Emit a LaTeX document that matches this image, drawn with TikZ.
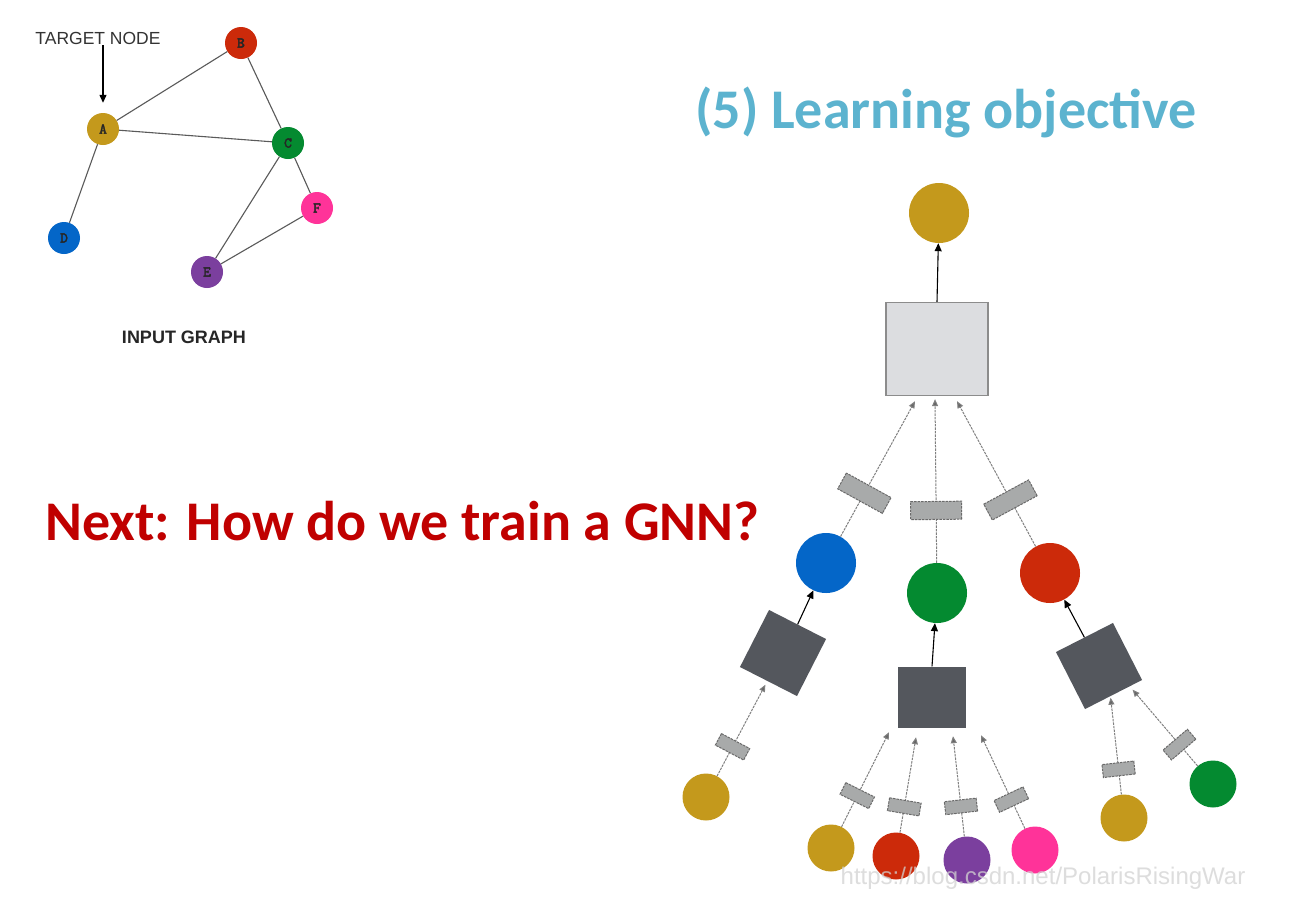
\documentclass[tikz,border=0pt]{standalone}
\usepackage{fontspec}
\setmainfont{Liberation Sans}
\newfontfamily\calib{Carlito}
\newfontfamily\monob{lmmono10-regular.otf}[FakeBold=2.5]
\usetikzlibrary{arrows.meta,calc}
\definecolor{cgold}{HTML}{C4991C}
\definecolor{cred}{HTML}{CC2A0A}
\definecolor{cgreen}{HTML}{048A30}
\definecolor{cblue}{HTML}{0466C8}
\definecolor{cpurple}{HTML}{7B3F9E}
\definecolor{cpink}{HTML}{FF3399}
\definecolor{dsq}{HTML}{54575D}
\definecolor{lsq}{HTML}{DCDDE0}
\definecolor{lsqb}{HTML}{8C8C8C}
\definecolor{rfill}{HTML}{A8AAAA}
\definecolor{rbord}{HTML}{6A6A6A}
\definecolor{msgc}{HTML}{808080}
\definecolor{edgec}{HTML}{5A5A5A}
\definecolor{titleblue}{HTML}{5CB3CF}
\definecolor{nextred}{HTML}{C00000}
\definecolor{tgray}{HTML}{333333}
\begin{document}
\begin{tikzpicture}[x=1pt,y=-1pt,
  gnode/.style={circle, minimum size=32pt, inner sep=0pt, text=black!85, font=\monob\bfseries\fontsize{15}{15}\selectfont},
  gedge/.style={draw=edgec, line width=1.1pt},
  bigc/.style={circle, minimum size=60pt, inner sep=0pt},
  smallc/.style={circle, minimum size=47pt, inner sep=0pt},
  darkbox/.style={fill=dsq, minimum width=64pt, minimum height=64pt, inner sep=0pt},
  lightbox/.style={fill=lsq, draw=lsqb, line width=1.3pt, minimum width=102pt, minimum height=93pt, inner sep=0pt},
  wrect/.style={draw=rbord, fill=rfill, line width=1pt, minimum width=18pt, minimum height=51pt, inner sep=0pt, sloped},
  swrect/.style={draw=rbord, fill=rfill, line width=1pt, minimum width=13pt, minimum height=32pt, inner sep=0pt, sloped},
  msg/.style={draw=msgc, line width=1pt, dash pattern=on 2.5pt off 1pt, -{Triangle[length=7pt,width=6pt,fill=msgc!80!black]}},
  up/.style={draw=black, line width=1.1pt, -{Triangle[length=8pt,width=7pt]}}
]
\fill[white] (0,0) rectangle (1297,919);
\useasboundingbox (0,0) rectangle (1297,919);

% ---------- input graph ----------
\node[anchor=base, text=tgray, font=\fontsize{17.5}{17.5}\selectfont, inner sep=1pt] (tlabel) at (98,44) {TARGET NODE};
\node[gnode, fill=cgold] (A) at (103,129) {A};
\node[gnode, fill=cred] (B) at (241,43) {B};
\node[gnode, fill=cgreen] (C) at (288,143) {C};
\node[gnode, fill=cblue] (D) at (64,238) {D};
\node[gnode, fill=cpurple] (E) at (207,272) {E};
\node[gnode, fill=cpink] (F) at (317,208) {F};
\draw[gedge] (A) -- (B);
\draw[gedge] (A) -- (C);
\draw[gedge] (B) -- (C);
\draw[gedge] (A) -- (D);
\draw[gedge] (C) -- (E);
\draw[gedge] (C) -- (F);
\draw[gedge] (E) -- (F);
\draw[up, line width=1.3pt, -{Triangle[length=8pt,width=7pt]}, shorten >=10pt] (tlabel.south -| A.north) -- (A.north);
\node[anchor=base, font=\bfseries\fontsize{18}{18}\selectfont, text=black!85] (ig) at (184,343) {INPUT GRAPH};

% ---------- titles ----------
\node[anchor=base west, inner sep=0pt, text=titleblue, font=\calib\bfseries\fontsize{56}{56}\selectfont] (title) at (695,128) {(5) Learning objective};
\node[anchor=base west, inner sep=0pt, text=nextred, font=\calib\bfseries\fontsize{56}{56}\selectfont] (next) at (45,540) {Next: How do we train a GNN?};

% ---------- tree ----------
\node[bigc, fill=cgold] (root) at (939,213) {};
\node[lightbox] (agg) at (937,349) {};
\node[bigc, fill=cblue] (b1) at (826,563) {};
\node[bigc, fill=cgreen] (g1) at (937,593) {};
\node[bigc, fill=cred] (r1) at (1050,573) {};
\node[darkbox, rotate=-27] (L1) at (783,653) {};
\node[darkbox, minimum width=68pt, minimum height=61pt] (M1) at (932,697) {};
\node[darkbox, rotate=27] (R1) at (1099,666) {};

\node[smallc, fill=cgold] (l2a) at (706,797) {};
\node[smallc, fill=cgold] (m2a) at (831,848) {};
\node[smallc, fill=cred] (m2b) at (896,856) {};
\node[smallc, fill=cpurple] (m2c) at (967,860) {};
\node[smallc, fill=cpink] (m2d) at (1035,850) {};
\node[smallc, fill=cgold] (r2a) at (1124,818) {};
\node[smallc, fill=cgreen] (r2b) at (1213,784) {};

% arrow targets
\coordinate (t1) at ($(agg.south)+(-22,5)$);
\coordinate (t2) at ($(agg.south)+(-2,3)$);
\coordinate (t3) at ($(agg.south)+(20,5)$);
\coordinate (tl) at ($(L1.south)+(-3,3)$);
\coordinate (tm1) at ($(M1.south)+(-43,4.5)$);
\coordinate (tm2) at ($(M1.south)+(-16,9.5)$);
\coordinate (tm3) at ($(M1.south)+(21,8.5)$);
\coordinate (tm4) at ($(M1.south)+(49,7.5)$);
\coordinate (tr1) at ($(R1.south)+(-3,3)$);
\coordinate (tr2) at ($(R1.south)+(19,-5)$);

% upper messages
\draw[msg] (b1) -- node[wrect, pos=0.32] (w1) {} (t1);
\draw[msg] (g1) -- node[wrect, pos=0.32] (w2) {} (t2);
\draw[msg] (r1) -- node[wrect, pos=0.32] (w3) {} (t3);
\draw[up] (agg.north) -- (root);

% black arrows from dark boxes
\draw[up] (L1.north) -- (b1);
\draw[up] (M1.north) -- (g1);
\draw[up] (R1.north) -- (r1);

% lower messages
\draw[msg] (l2a) -- node[swrect, pos=0.32] (s1) {} (tl);
\draw[msg] (m2a) -- node[swrect, pos=0.33] (s2) {} (tm1);
\draw[msg] (m2b) -- node[swrect, pos=0.27] (s3) {} (tm2);
\draw[msg] (m2c) -- node[swrect, pos=0.30] (s4) {} (tm3);
\draw[msg] (m2d) -- node[swrect, pos=0.31] (s5) {} (tm4);
\draw[msg] (r2a) -- node[swrect, pos=0.26] (s6) {} (tr1);
\draw[msg] (r2b) -- node[swrect, pos=0.28] (s7) {} (tr2);

% watermark
\node[anchor=base, text=gray!35, opacity=0.75, font=\fontsize{24}{24}\selectfont] (wm) at (1043,884) {https://blog.csdn.net/PolarisRisingWar};
\end{tikzpicture}
\end{document}
